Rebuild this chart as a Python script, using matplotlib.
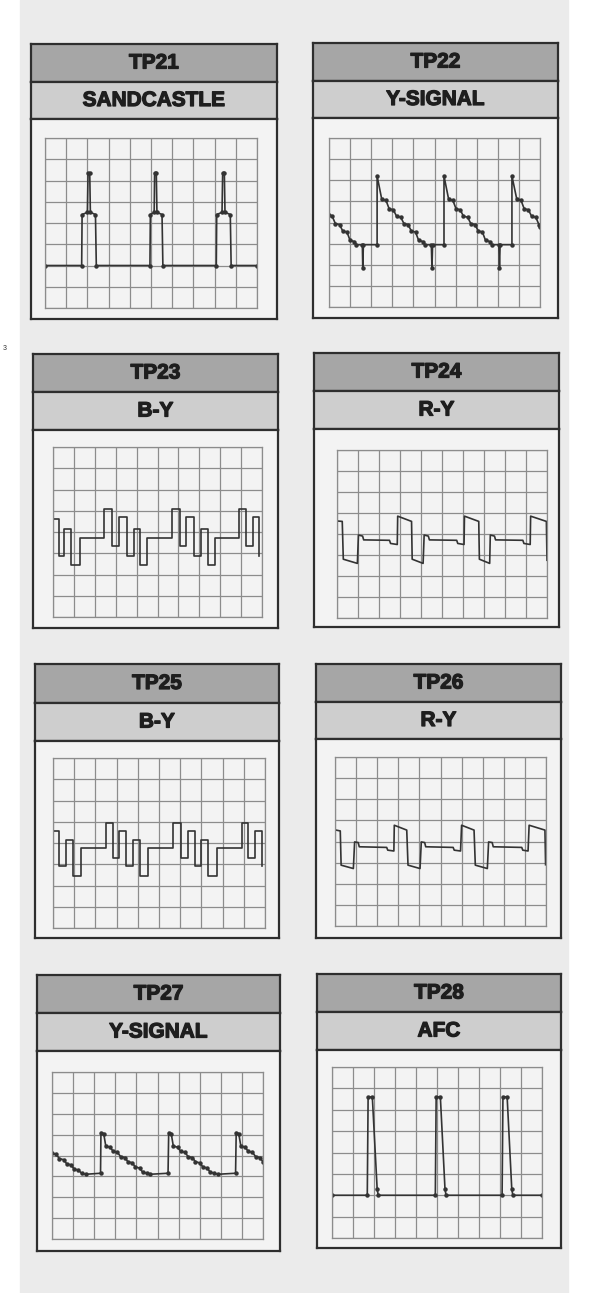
import matplotlib.pyplot as plt
import matplotlib.patheffects as pe
from matplotlib.patches import Rectangle

# test point labels and signal names
tp_names = ["TP21", "TP22", "TP23", "TP24", "TP25", "TP26", "TP27", "TP28"]
signal_names = ["SANDCASTLE", "Y-SIGNAL", "B-Y", "R-Y", "B-Y", "R-Y", "Y-SIGNAL", "AFC"]

# waveforms in scope divisions (x: 0..10, y: 0..8)
tp21_x = [0, 1.73, 1.75, 2.0, 2.03, 2.11, 2.14, 2.38, 2.42, 4.95, 4.97, 5.15, 5.17, 5.25, 5.28, 5.52, 5.56,
          8.08, 8.1, 8.35, 8.38, 8.46, 8.49, 8.74, 8.78, 10]
tp21_y = [2, 2, 4.4, 4.5, 6.35, 6.35, 4.5, 4.4, 2, 2, 4.4, 4.5, 6.35, 6.35, 4.5, 4.4, 2,
          2, 4.4, 4.5, 6.35, 6.35, 4.5, 4.4, 2, 2]

tp22_x = [0, 0.15, 0.3, 0.5, 0.65, 0.85, 1.0, 1.2, 1.3, 1.58, 1.6, 1.63, 2.28, 2.28,
          2.5, 2.7, 2.85, 3.05, 3.2, 3.4, 3.55, 3.75, 3.9, 4.1, 4.25, 4.45, 4.55,
          4.85, 4.88, 4.91, 5.45, 5.45,
          5.67, 5.87, 6.02, 6.22, 6.37, 6.57, 6.72, 6.92, 7.07, 7.27, 7.42, 7.62, 7.72,
          8.05, 8.08, 8.11, 8.67, 8.67,
          8.9, 9.1, 9.25, 9.45, 9.6, 9.8, 9.95, 10]
tp22_y = [4.35, 4.3, 3.95, 3.9, 3.6, 3.55, 3.15, 3.1, 2.95, 2.95, 1.85, 2.95, 2.95, 6.2,
          5.1, 5.05, 4.65, 4.6, 4.3, 4.25, 3.95, 3.9, 3.6, 3.55, 3.15, 3.1, 2.95,
          2.95, 1.85, 2.95, 2.95, 6.2,
          5.1, 5.05, 4.65, 4.6, 4.3, 4.25, 3.95, 3.9, 3.6, 3.55, 3.15, 3.1, 2.95,
          2.95, 1.85, 2.95, 2.95, 6.2,
          5.1, 5.05, 4.65, 4.6, 4.3, 4.25, 3.9, 3.8]

tp23_x = [0, 0.28, 0.28, 0.55, 0.55, 0.88, 0.88, 1.28, 1.28, 2.45, 2.45, 2.82, 2.82, 3.15, 3.15,
          3.52, 3.52, 3.88, 3.88, 4.15, 4.15, 4.5, 4.5, 5.7, 5.7, 6.07, 6.07, 6.38, 6.38, 6.75,
          6.75, 7.1, 7.1, 7.4, 7.4, 7.73, 7.73, 8.88, 8.88, 9.25, 9.25, 9.58, 9.58, 9.88, 9.88]
tp23_y = [4.6, 4.6, 2.85, 2.85, 4.15, 4.15, 2.45, 2.45, 3.7, 3.7, 5.1, 5.1, 3.35, 3.35, 4.7,
          4.7, 2.85, 2.85, 4.15, 4.15, 2.45, 2.45, 3.7, 3.7, 5.1, 5.1, 3.35, 3.35, 4.7, 4.7,
          2.85, 2.85, 4.15, 4.15, 2.45, 2.45, 3.7, 3.7, 5.1, 5.1, 3.35, 3.35, 4.7, 4.7, 2.85]

tp24_x = [0, 0.25, 0.3, 0.97, 1.02, 1.22, 1.27, 2.5, 2.55, 2.87, 2.89, 3.55, 3.58, 4.1, 4.15,
          4.35, 4.4, 5.7, 5.75, 6.05, 6.07, 6.75, 6.78, 7.27, 7.3, 7.5, 7.55, 8.85, 8.9, 9.2,
          9.22, 9.97, 10]
tp24_y = [4.62, 4.6, 2.8, 2.6, 3.95, 3.9, 3.72, 3.7, 3.55, 3.5, 4.85, 4.6, 2.8, 2.6, 3.95,
          3.9, 3.72, 3.7, 3.55, 3.5, 4.85, 4.6, 2.8, 2.6, 3.95, 3.9, 3.72, 3.7, 3.55, 3.5,
          4.85, 4.6, 2.75]

tp25_x = [0, 0.28, 0.28, 0.63, 0.63, 0.94, 0.94, 1.34, 1.34, 2.49, 2.49, 2.83, 2.83, 3.12, 3.12,
          3.46, 3.46, 3.78, 3.78, 4.1, 4.1, 4.49, 4.49, 5.67, 5.67, 6.06, 6.06, 6.38, 6.38, 6.69,
          6.69, 7.0, 7.0, 7.32, 7.32, 7.72, 7.72, 8.9, 8.9, 9.21, 9.21, 9.53, 9.53, 9.84, 9.84]
tp25_y = [4.55, 4.55, 2.9, 2.9, 4.15, 4.15, 2.45, 2.45, 3.75, 3.75, 4.95, 4.95, 3.3, 3.3, 4.55,
          4.55, 2.9, 2.9, 4.15, 4.15, 2.45, 2.45, 3.75, 3.75, 4.95, 4.95, 3.3, 3.3, 4.55, 4.55,
          2.9, 2.9, 4.15, 4.15, 2.45, 2.45, 3.75, 3.75, 4.95, 4.95, 3.3, 3.3, 4.55, 4.55, 2.9]

tp26_x = [0, 0.25, 0.29, 0.87, 0.93, 1.1, 1.15, 2.45, 2.5, 2.79, 2.81, 3.4, 3.46, 4.03, 4.09,
          4.25, 4.3, 5.6, 5.65, 5.95, 6.0, 6.59, 6.65, 7.22, 7.28, 7.45, 7.5, 8.85, 8.9, 9.15,
          9.2, 9.95, 9.98]
tp26_y = [4.55, 4.5, 2.88, 2.72, 3.98, 3.95, 3.75, 3.72, 3.59, 3.55, 4.77, 4.54, 2.88, 2.72, 3.98,
          3.95, 3.75, 3.72, 3.59, 3.55, 4.77, 4.54, 2.88, 2.72, 3.98, 3.95, 3.75, 3.72, 3.59, 3.55,
          4.77, 4.54, 2.9]

tp27_x = [0, 0.2, 0.35, 0.55, 0.7, 0.9, 1.05, 1.25, 1.4, 1.6, 2.3, 2.32,
          2.45, 2.55, 2.75, 2.9, 3.1, 3.25, 3.45, 3.6, 3.8, 3.95, 4.15, 4.3, 4.5, 4.65, 5.5, 5.53,
          5.65, 5.75, 5.95, 6.1, 6.3, 6.45, 6.65, 6.8, 7.0, 7.15, 7.35, 7.5, 7.7, 7.85, 8.7, 8.73,
          8.85, 8.95, 9.15, 9.3, 9.5, 9.65, 9.85, 10]
tp27_y = [4.1, 4.05, 3.85, 3.8, 3.6, 3.55, 3.35, 3.3, 3.15, 3.1, 3.15, 5.1,
          5.05, 4.45, 4.4, 4.2, 4.15, 3.95, 3.9, 3.7, 3.65, 3.45, 3.4, 3.2, 3.15, 3.1, 3.15, 5.1,
          5.05, 4.45, 4.4, 4.2, 4.15, 3.95, 3.9, 3.7, 3.65, 3.45, 3.4, 3.2, 3.15, 3.1, 3.15, 5.1,
          5.05, 4.45, 4.4, 4.2, 4.15, 3.95, 3.9, 3.7]

tp28_x = [0, 1.68, 1.72, 1.92, 2.15, 2.2, 4.92, 4.96, 5.16, 5.38, 5.43, 8.1, 8.14, 8.34, 8.56, 8.61, 10]
tp28_y = [2, 2, 6.6, 6.6, 2.3, 2, 2, 6.6, 6.6, 2.3, 2, 2, 6.6, 6.6, 2.3, 2, 2]

waves = [(tp21_x, tp21_y), (tp22_x, tp22_y), (tp23_x, tp23_y), (tp24_x, tp24_y),
         (tp25_x, tp25_y), (tp26_x, tp26_y), (tp27_x, tp27_y), (tp28_x, tp28_y)]
# which traces show the blobby dots on the flats
dotted = [True, True, False, False, False, False, True, True]

W, H = 589, 1293

# panel frames in pixels: left, top, right, bottom, header1 bottom, header2 bottom
frames = [(31, 44, 277, 319, 82, 119), (313, 43, 558, 318, 81, 118),
          (33, 354, 278, 628, 392, 430), (314, 353, 559, 627, 391, 429),
          (35, 664, 279, 938, 703, 741), (316, 664, 561, 938, 702, 739),
          (37, 975, 280, 1251, 1013, 1051), (317, 974, 561, 1248, 1012, 1050)]
# scope graticule areas: left, top, right, bottom
scopes = [(45, 138, 257, 308), (329, 138, 540, 307),
          (53, 447, 262, 617), (337, 450, 547, 618),
          (53, 758, 265, 928), (335, 757, 546, 926),
          (52, 1072, 263, 1239), (332, 1067, 542, 1238)]


def fbox(l, t, r, b):
    return [l / W, 1 - b / H, (r - l) / W, (b - t) / H]


def plain(ax, face):
    ax.set_facecolor(face)
    ax.set_xticks([])
    ax.set_yticks([])
    for s in ax.spines.values():
        s.set_linewidth(1.6)
        s.set_color('#2e2e2e')


plt.rcParams['font.family'] = ['Liberation Sans', 'DejaVu Sans']
fig = plt.figure(figsize=(W / 100, H / 100), dpi=100)
fig.patch.set_facecolor('white')
fig.patches.append(Rectangle((20 / W, 0), 548 / W, 1, transform=fig.transFigure,
                             color='#ebebeb', zorder=-5))
fig.text(3 / W, 1 - 349 / H, "3", fontsize=5, va='center', color='#333333')

heavy = [pe.withStroke(linewidth=0.9, foreground='#1e1e1e')]
for i in range(8):
    l, t, r, b, h1, h2 = frames[i]
    ax1 = fig.add_axes(fbox(l, t, r, h1))
    plain(ax1, '#a6a6a6')
    ax1.text(0.5, 0.5, tp_names[i], ha='center', va='center', fontsize=15,
             fontweight='bold', color='#1e1e1e', transform=ax1.transAxes, path_effects=heavy)
    ax2 = fig.add_axes(fbox(l, h1, r, h2))
    plain(ax2, '#cecece')
    ax2.text(0.5, 0.5, signal_names[i], ha='center', va='center', fontsize=15,
             fontweight='bold', color='#1e1e1e', transform=ax2.transAxes, path_effects=heavy)
    ax3 = fig.add_axes(fbox(l, h2, r, b))
    plain(ax3, '#f3f3f3')

    sc = fig.add_axes(fbox(*scopes[i]))
    sc.set_facecolor('#f3f3f3')
    sc.set_xlim(0, 10)
    sc.set_ylim(0, 8)
    sc.set_xticks(range(11))
    sc.set_yticks(range(9))
    sc.grid(True, color='#8c8c8c', linewidth=0.9)
    sc.tick_params(length=0, labelbottom=False, labelleft=False)
    for s in sc.spines.values():
        s.set_color('#8c8c8c')
        s.set_linewidth(0.9)
    x, y = waves[i]
    if dotted[i]:
        sc.plot(x, y, color='#333333', linewidth=1.2, marker='o', markersize=2.2)
    else:
        sc.plot(x, y, color='#333333', linewidth=1.2)

fig.savefig('out.png', dpi=100)
